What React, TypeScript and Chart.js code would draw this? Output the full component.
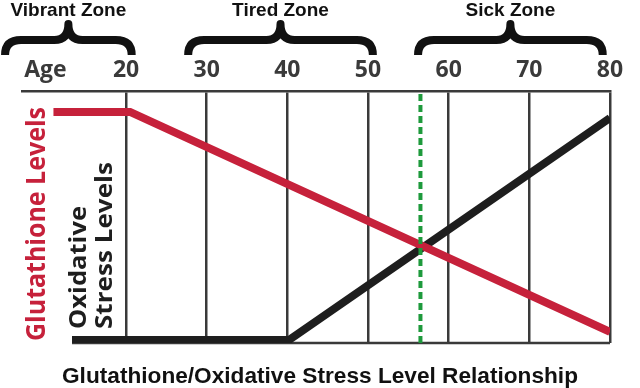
import React, { useEffect, useRef } from "react";
import { Chart, registerables } from "chart.js";

Chart.register(...registerables);

// ---- data ----
const ageTicks = [10, 20, 30, 40, 50, 60, 70, 80];
const ageTickLabels = ["Age", "20", "30", "40", "50", "60", "70", "80"];
const glutathioneAges = [11, 20.5, 80];
const glutathioneLevels = [91.7, 91.7, 4.4];
const stressAges = [13.3, 40.2, 80];
const stressLevels = [1.2, 1.2, 89.3];
const tippingAges = [56.5, 56.5];
const tippingLevels = [0, 100];
const zoneNames = ["Vibrant Zone", "Tired Zone", "Sick Zone"];
const zoneStartAges = [5, 27.7, 56.2];
const zoneEndAges = [20.7, 50.6, 79.1];
const chartTitle = "Glutathione/Oxidative Stress Level Relationship";
const leftLabel = "Glutathione Levels";
const innerLabel = ["Oxidative", "Stress Levels"];

const RED = "#c6213b";
const BLACK = "#1e1e1e";
const GRID = "#3a3a3a";
const GREEN = "#1e9a3c";

const toPoints = (xs: number[], ys: number[]) => xs.map((x, i) => ({ x, y: ys[i] }));

function fitText(
  ctx: CanvasRenderingContext2D,
  text: string,
  x: number,
  y: number,
  width: number,
  font: string,
  color: string,
  align: "left" | "center",
  rotate = 0
) {
  ctx.save();
  ctx.font = font;
  ctx.fillStyle = color;
  ctx.textBaseline = "alphabetic";
  ctx.textAlign = align;
  ctx.translate(x, y);
  if (rotate) ctx.rotate(rotate);
  const w = ctx.measureText(text).width;
  ctx.scale(width / w, 1);
  ctx.fillText(text, 0, 0);
  ctx.restore();
}

const decorPlugin = {
  id: "decor",
  beforeDatasetsDraw(chart: any) {
    const { ctx, chartArea, scales } = chart;
    const xs = scales.x;
    ctx.save();
    ctx.strokeStyle = GRID;
    ctx.lineWidth = 2.5;
    ctx.beginPath();
    ctx.moveTo(xs.getPixelForValue(stressAges[0]), chartArea.bottom);
    ctx.lineTo(chartArea.right, chartArea.bottom);
    ctx.stroke();
    ctx.restore();
  },
  afterDraw(chart: any) {
    const { ctx, scales } = chart;
    const xs = scales.x;
    // braces + zone names
    zoneNames.forEach((name, i) => {
      const x0 = xs.getPixelForValue(zoneStartAges[i]);
      const x1 = xs.getPixelForValue(zoneEndAges[i]);
      const xm = (x0 + x1) / 2;
      const yEnd = 55,
        yArm = 40,
        yTip = 24;
      ctx.save();
      ctx.strokeStyle = "#111";
      ctx.lineWidth = 8;
      ctx.lineCap = "butt";
      ctx.lineJoin = "round";
      ctx.beginPath();
      ctx.moveTo(x0, yEnd);
      ctx.quadraticCurveTo(x0, yArm, x0 + 16, yArm);
      ctx.lineTo(xm - 14, yArm);
      ctx.quadraticCurveTo(xm, yArm, xm, yTip);
      ctx.quadraticCurveTo(xm, yArm, xm + 14, yArm);
      ctx.lineTo(x1 - 16, yArm);
      ctx.quadraticCurveTo(x1, yArm, x1, yEnd);
      ctx.stroke();
      ctx.restore();
      ctx.save();
      ctx.font = "bold 19px 'Liberation Sans', Arial, sans-serif";
      ctx.fillStyle = "#111";
      ctx.textAlign = "center";
      ctx.textBaseline = "alphabetic";
      ctx.fillText(name, xm, 16);
      ctx.restore();
    });
    // left labels (rotated)
    fitText(ctx, leftLabel, 45, 224, 234, "bold 27px 'Open Sans', sans-serif", RED, "center", -Math.PI / 2);
    fitText(ctx, innerLabel[0], 86, 329, 123, "bold 24px 'Open Sans', sans-serif", BLACK, "left", -Math.PI / 2);
    fitText(ctx, innerLabel[1], 112, 329, 167, "bold 24px 'Open Sans', sans-serif", BLACK, "left", -Math.PI / 2);
    // bottom title
    fitText(ctx, chartTitle, 320, 383, 516, "bold 22px 'Liberation Sans', Arial, sans-serif", "#111", "center");
  },
};

export default function App() {
  const ref = useRef<HTMLCanvasElement | null>(null);
  useEffect(() => {
    document.body.style.margin = "0";
    if (!ref.current) return;
    const chart = new Chart(ref.current, {
      type: "line",
      data: {
        datasets: [
          {
            label: "Tipping point",
            data: toPoints(tippingAges, tippingLevels),
            borderColor: GREEN,
            borderWidth: 4,
            borderDash: [7, 4],
            pointRadius: 0,
            order: 0,
          },
          {
            label: "Glutathione Levels",
            data: toPoints(glutathioneAges, glutathioneLevels),
            borderColor: RED,
            borderWidth: 8,
            pointRadius: 0,
            borderCapStyle: "butt",
            order: 1,
          },
          {
            label: "Oxidative Stress Levels",
            data: toPoints(stressAges, stressLevels),
            borderColor: BLACK,
            borderWidth: 8,
            pointRadius: 0,
            borderCapStyle: "butt",
            order: 2,
          },
        ],
      },
      options: {
        animation: false,
        responsive: false,
        devicePixelRatio: 1,
        layout: { padding: { left: 22, right: 30, top: 0, bottom: 45 } },
        plugins: { legend: { display: false }, tooltip: { enabled: false }, title: { display: false } },
        scales: {
          x: {
            type: "linear",
            position: "top",
            min: 7.1,
            max: 80,
            afterFit: (s: any) => {
              s.height = 91;
            },
            afterBuildTicks: (s: any) => {
              s.ticks = ageTicks.map((v) => ({ value: v }));
            },
            ticks: {
              padding: 7,
              color: "#3a3a3a",
              font: { family: "'Open Sans', sans-serif", size: 23, weight: "bold" },
              callback: (v: any) => {
                const i = ageTicks.indexOf(Number(v));
                return i >= 0 ? ageTickLabels[i] : "";
              },
            },
            grid: {
              color: (c: any) => (c.tick && c.tick.value === 10 ? "rgba(0,0,0,0)" : GRID),
              lineWidth: 2.5,
              drawTicks: false,
            },
            border: { display: true, color: GRID, width: 2.5 },
          },
          y: { display: false, min: 0, max: 100 },
        },
      },
      plugins: [decorPlugin],
    } as any);
    return () => chart.destroy();
  }, []);
  return (
    <div style={{ width: 640, height: 388, background: "#fff" }}>
      <canvas ref={ref} width={640} height={388} style={{ display: "block" }} />
    </div>
  );
}
